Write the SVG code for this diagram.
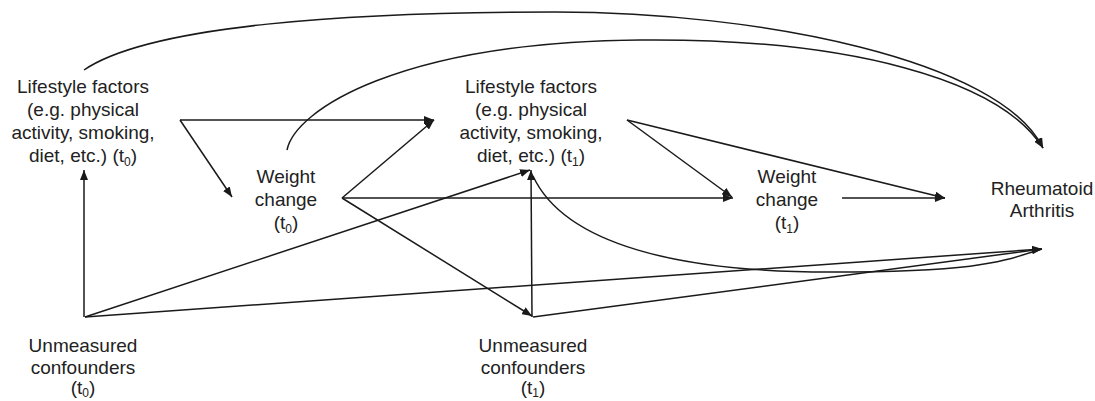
<svg xmlns="http://www.w3.org/2000/svg" width="1095" height="401" viewBox="0 0 1095 401">
<defs>
<marker id="ah" viewBox="0 0 10 8" refX="10" refY="4" markerWidth="10" markerHeight="8" markerUnits="userSpaceOnUse" orient="auto">
<path d="M0,0 L10,4 L0,8 z" fill="#1a1a1a"/>
</marker>
<style>
.t{font-family:"Liberation Sans",Arial,sans-serif;font-size:19px;fill:#222;text-anchor:middle}
.s{font-size:12px}
.c{fill:none;stroke:#1a1a1a;stroke-width:1.5}
.a{marker-end:url(#ah)}
</style>
</defs>
<rect width="1095" height="401" fill="#fff"/>
<g id="connectors">
<path class="c a" d="M84,317 L84,170"/>
<path class="c a" d="M85,317 L530,170"/>
<path class="c a" d="M85,317 L1042,249"/>
<path class="c a" d="M532,317 L531,170"/>
<path class="c a" d="M533,317 L1042,249"/>
<path class="c a" d="M342,198 L532,316"/>
<path class="c a" d="M342,198 L434,120"/>
<path class="c a" d="M180,120 L434,120"/>
<path class="c a" d="M180,120 L232,197"/>
<path class="c a" d="M342,198 L733,198"/>
<path class="c a" d="M627,120 L732,197"/>
<path class="c a" d="M627,120 L945,198"/>
<path class="c a" d="M842,198 L945,198"/>
<path class="c a" d="M84,70 C150,25 350,12 555,12 C760,12 1000,60 1043,148"/>
<path class="c a" d="M287,150 C295,110 400,42 640,40 C850,38 1000,80 1043,148"/>
<path class="c" d="M533,176 C565,245 680,272 830,272 S1000,262 1042,249"/>
</g>
<g id="lifestyle-t0">
<text class="t" x="83" y="93">Lifestyle factors</text>
<text class="t" x="83" y="116">(e.g. physical</text>
<text class="t" x="83" y="139">activity, smoking,</text>
<text class="t" x="83" y="162">diet, etc.) (t<tspan class="s" dy="4">0</tspan><tspan dy="-4">)</tspan></text>
</g>
<g id="lifestyle-t1">
<text class="t" x="531" y="93">Lifestyle factors</text>
<text class="t" x="531" y="116">(e.g. physical</text>
<text class="t" x="531" y="139">activity, smoking,</text>
<text class="t" x="531" y="162">diet, etc.) (t<tspan class="s" dy="4">1</tspan><tspan dy="-4">)</tspan></text>
</g>
<g id="weight-t0">
<text class="t" x="286" y="183">Weight</text>
<text class="t" x="286" y="206">change</text>
<text class="t" x="286" y="229">(t<tspan class="s" dy="4">0</tspan><tspan dy="-4">)</tspan></text>
</g>
<g id="weight-t1">
<text class="t" x="787" y="183">Weight</text>
<text class="t" x="787" y="206">change</text>
<text class="t" x="787" y="229">(t<tspan class="s" dy="4">1</tspan><tspan dy="-4">)</tspan></text>
</g>
<g id="ra">
<text class="t" x="1042" y="195">Rheumatoid</text>
<text class="t" x="1042" y="217">Arthritis</text>
</g>
<g id="unmeasured-t0">
<text class="t" x="83" y="352">Unmeasured</text>
<text class="t" x="83" y="374">confounders</text>
<text class="t" x="83" y="394">(t<tspan class="s" dy="3">0</tspan><tspan dy="-3">)</tspan></text>
</g>
<g id="unmeasured-t1">
<text class="t" x="533" y="352">Unmeasured</text>
<text class="t" x="533" y="374">confounders</text>
<text class="t" x="533" y="394">(t<tspan class="s" dy="3">1</tspan><tspan dy="-3">)</tspan></text>
</g>
</svg>
